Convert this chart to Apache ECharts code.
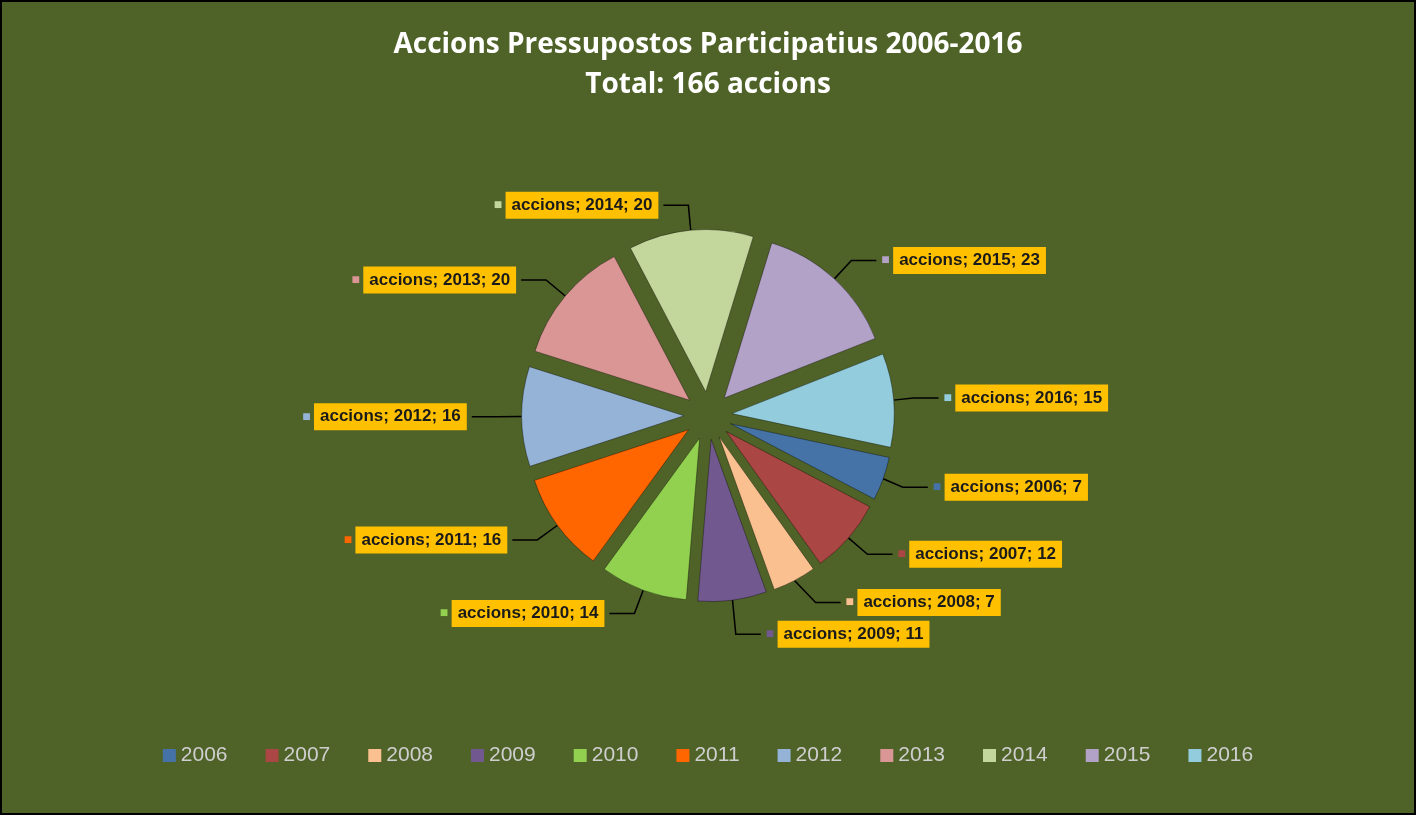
<!DOCTYPE html>
<html><head><meta charset="utf-8">
<script src="https://cdn.jsdelivr.net/npm/echarts@6/dist/echarts.min.js"></script>
<style>html,body{margin:0;padding:0;background:#000}#c{width:1412px;height:811px;margin:2px;background:#4F6228}</style>
</head><body><div id="c"></div>
<script>
const years=['2006','2007','2008','2009','2010','2011','2012','2013','2014','2015','2016'];
const values=[7,12,7,11,14,16,16,20,20,23,15];
const colors=['#4572A7','#AA4643','#FAC090','#71588F','#92D050','#FF6600','#95B3D7','#D99694','#C3D69B','#B3A2C7','#93CDDD'];
const chart=echarts.init(document.getElementById('c'));
chart.setOption({
  color:colors,
  title:{text:'Accions Pressupostos Participatius 2006-2016\nTotal: 166 accions',left:'center',top:18,
    textStyle:{color:'#fff',fontSize:28,fontWeight:'bold',fontFamily:'Open Sans',lineHeight:40}},
  legend:{bottom:42,left:'center',itemWidth:13,itemHeight:13,itemGap:38,icon:'rect',
    itemStyle:{borderWidth:0},
    textStyle:{color:'#cfcfcf',fontSize:21,fontFamily:'Liberation Sans'},data:years},
  series:[{type:'pie',center:['50%','51%'],radius:['0%','40%'],startAngle:-12,
    selectedMode:'multiple',selectedOffset:24,
    label:{show:true,position:'outside',formatter:p=>'{sq|■} {t|accions; '+p.name+'; '+p.value+'}',
      rich:{sq:{fontSize:14,color:'inherit'},t:{backgroundColor:'#FFC000',color:'#1a1a1a',fontWeight:'bold',
        fontSize:17,fontFamily:'Liberation Sans',padding:[5,6]}}},
    labelLine:{show:true,length:25,length2:25,lineStyle:{color:'#000',width:1.5}},
    itemStyle:{borderColor:'rgba(0,0,0,0.35)',borderWidth:1},
    data:years.map((y,i)=>({name:y,value:values[i],selected:true,label:{rich:{sq:{color:colors[i]}}}}))
  }]
});
</script></body></html>
